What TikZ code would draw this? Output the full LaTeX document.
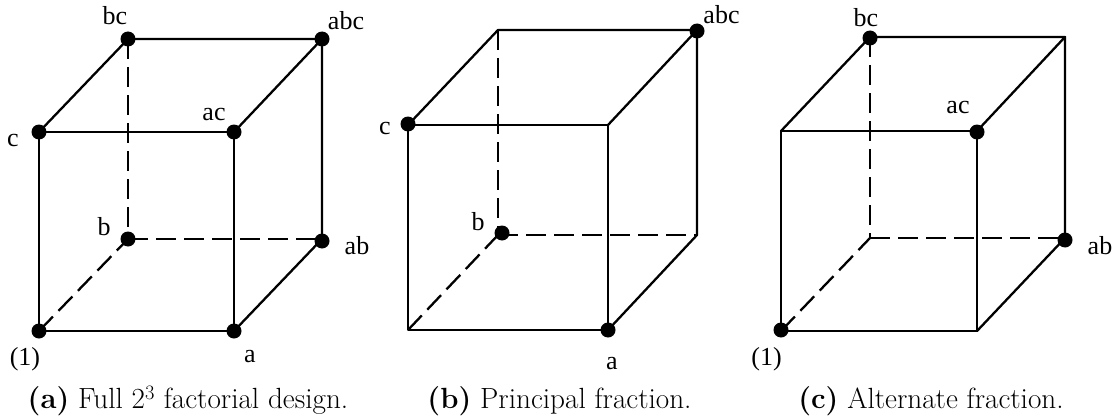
\documentclass[tikz,border=0pt]{standalone}
\usepackage{fontspec}
\newfontfamily\labfont{Liberation Serif}
\tikzset{
  x=1pt,y=-1pt,
  dot/.style={circle,fill=black,draw=none,minimum size=15pt,inner sep=0pt},
  lab/.style={inner sep=0pt,font=\labfont\fontsize{26}{30}\selectfont,anchor=center},
  captext/.style={inner sep=0pt,font=\fontsize{29.2}{34}\selectfont,anchor=center},
  solidline/.style={line width=2.3pt,line cap=round,line join=round},
  hid/.style={line width=2.3pt,dash pattern=on 20pt off 8pt},
}
\begin{document}
\begin{tikzpicture}
\useasboundingbox (0,0) rectangle (1116,420);
% (a)
\coordinate (Ac) at (39,132); \coordinate (Aac) at (234,132);
\coordinate (Ao) at (39,331); \coordinate (Aa) at (234,331);
\coordinate (Abc) at (128,39); \coordinate (Aabc) at (322,39);
\coordinate (Ab) at (128,239); \coordinate (Aab) at (322,239);
\draw[hid] (Abc) -- (Ab);
\draw[hid] (Ab) -- (Aab);
\draw[hid] (Ao) -- (Ab);
\draw[solidline] (Ac) -- (Aac) -- (Aa) -- (Ao) -- cycle;
\draw[solidline] (Ac) -- (Abc) -- (Aabc) -- (Aac);
\draw[solidline] (Aabc) -- (Aab) -- (Aa);
\foreach \n in {Ac,Aac,Ao,Aa,Abc,Aabc,Ab} \node[dot] at (\n) {};
\node[dot] (Adab) at (322,241) {};
\node[lab] (la1) at (115,16) {bc};
\node[lab] (la2) at (346,21) {abc};
\node[lab] (la3) at (214,115) {ac};
\node[lab] (la4) at (13,141) {c};
\node[lab] (la5) at (104,227) {b};
\node[lab] (la6) at (357,246) {ab};
\node[lab] (la7) at (25,359) {(1)};
\node[lab] (la8) at (250,357) {a};
\node[captext] (ca) at (188,401) {\textbf{(a)} Full 2\textsuperscript{3} factorial design.};
% (b)
\coordinate (Bc) at (408,125); \coordinate (Bac) at (608,125);
\coordinate (Bo) at (408,330); \coordinate (Ba) at (608,330);
\coordinate (Bbc) at (498,30); \coordinate (Babc) at (697,30);
\coordinate (Bb) at (498,235); \coordinate (Bab) at (697,235);
\draw[hid] (Bbc) -- (Bb);
\draw[hid] (Bb) -- (Bab);
\draw[hid] (Bo) -- (Bb);
\draw[solidline] (Bc) -- (Bac) -- (Ba) -- (Bo) -- cycle;
\draw[solidline] (Bc) -- (Bbc) -- (Babc) -- (Bac);
\draw[solidline] (Babc) -- (Bab) -- (Ba);
\node[dot] (Bdc) at (408,124) {};
\node[dot] (Bdabc) at (697,31) {};
\node[dot] (Bdb) at (502,233) {};
\node[dot] (Bda) at (608,330) {};
\node[lab] (lb1) at (721.5,15) {abc};
\node[lab] (lb2) at (385,129) {c};
\node[lab] (lb3) at (478,222) {b};
\node[lab] (lb4) at (612,364) {a};
\node[captext] (cb) at (559.5,401) {\textbf{(b)} Principal fraction.};
% (c)
\coordinate (Cc) at (781,131); \coordinate (Cac) at (977,131);
\coordinate (Co) at (781,331); \coordinate (Ca) at (977,331);
\coordinate (Cbc) at (870,37); \coordinate (Cabc) at (1065,37);
\coordinate (Cb) at (870,238); \coordinate (Cab) at (1065,238);
\draw[hid] (Cbc) -- (Cb);
\draw[hid] (Cb) -- (Cab);
\draw[hid] (Co) -- (Cb);
\draw[solidline] (Cc) -- (Cac) -- (Ca) -- (Co) -- cycle;
\draw[solidline] (Cc) -- (Cbc) -- (Cabc) -- (Cac);
\draw[solidline] (Cabc) -- (Cab) -- (Ca);
\node[dot] (Cdac) at (977,132) {};
\node[dot] (Cdo) at (781,330) {};
\node[dot] (Cdbc) at (870,38) {};
\node[dot] (Cdab) at (1065,240) {};
\node[lab] (lc1) at (866,18) {bc};
\node[lab] (lc2) at (958,108) {ac};
\node[lab] (lc3) at (1100,246) {ab};
\node[lab] (lc4) at (766.5,359) {(1)};
\node[captext] (cc) at (931,401) {\textbf{(c)} Alternate fraction.};
\end{tikzpicture}
\end{document}
